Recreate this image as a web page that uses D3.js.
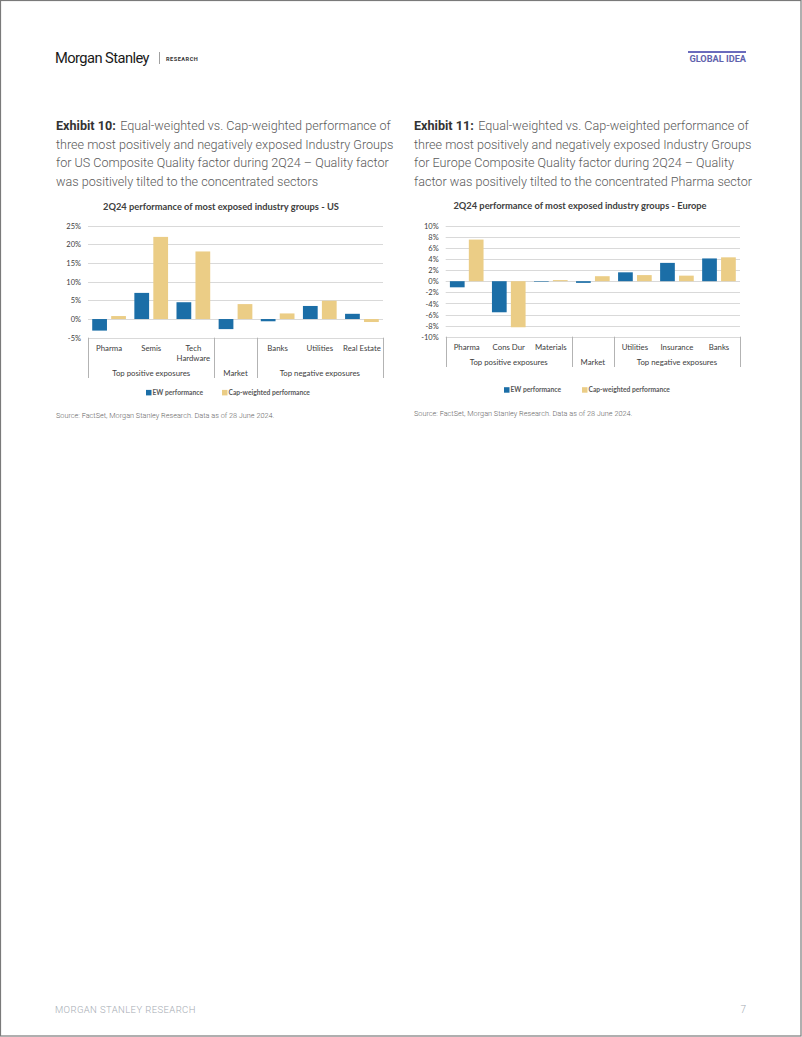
<!DOCTYPE html>
<html><head><meta charset="utf-8">
<script src="https://cdn.jsdelivr.net/npm/d3@7"></script>
<style>
html,body{margin:0;padding:0;background:#fff;}
svg{display:block;}
</style></head>
<body>
<script>
// ---------- DATA ----------
const usCategories = ["Pharma","Semis","Tech Hardware","Market","Banks","Utilities","Real Estate"];
const usEW  = [-3.1, 7.0, 4.5, -2.7, -0.6, 3.5, 1.4];
const usCap = [0.8, 22.0, 18.1, 4.0, 1.5, 4.9, -0.8];
const usTicks = [-5, 0, 5, 10, 15, 20, 25];

const euCategories = ["Pharma","Cons Dur","Materials","Market","Utilities","Insurance","Banks"];
const euEW  = [-1.1, -5.6, -0.1, -0.3, 1.6, 3.3, 4.1];
const euCap = [7.5, -8.3, 0.2, 0.9, 1.1, 1.0, 4.3];
const euTicks = [-10, -8, -6, -4, -2, 0, 2, 4, 6, 8, 10];

const groups = [
  {label:"Top positive exposures", from:0, to:2},
  {label:"Market", from:3, to:3},
  {label:"Top negative exposures", from:4, to:6}
];
const seriesNames = ["EW performance","Cap-weighted performance"];
const colors = ["#1b6ea7","#ebcd86"];

// ---------- PAGE ----------
const W = 802, H = 1037;
const svg = d3.select("body").append("svg").attr("width", W).attr("height", H);

svg.append("rect").attr("x",0.5).attr("y",0.5).attr("width",W-1.5).attr("height",H-1.5)
  .attr("fill","#fff").attr("stroke","#7a7a7a").attr("stroke-width",1.2);

// header
svg.append("text").attr("x",55).attr("y",63).attr("font-family","Roboto").attr("font-size",15.5)
  .attr("letter-spacing",-0.6).attr("fill","#1a1a1a").attr("textLength",94).attr("lengthAdjust","spacingAndGlyphs")
  .text("Morgan Stanley");
svg.append("line").attr("x1",159.5).attr("x2",159.5).attr("y1",52).attr("y2",64).attr("stroke","#888").attr("stroke-width",0.8);
svg.append("text").attr("x",166).attr("y",60.5).attr("font-family","Roboto").attr("font-weight",700)
  .attr("font-size",5.6).attr("letter-spacing",0.5).attr("fill","#333").text("RESEARCH");
svg.append("rect").attr("x",688).attr("y",51).attr("width",58).attr("height",2).attr("fill","#6a6bbd");
svg.append("text").attr("x",746).attr("y",62).attr("text-anchor","end").attr("font-family","Roboto")
  .attr("font-weight",700).attr("font-size",9.2).attr("fill","#6062ad").text("GLOBAL IDEA");

// footer
svg.append("text").attr("x",55).attr("y",1013).attr("font-family","Roboto").attr("font-weight",300)
  .attr("font-size",9.5).attr("letter-spacing",0.4).attr("fill","#a6acb4").text("MORGAN STANLEY RESEARCH");
svg.append("text").attr("x",746).attr("y",1013).attr("text-anchor","end").attr("font-family","Roboto").attr("font-weight",300)
  .attr("font-size",10).attr("fill","#a6acb4").text("7");

// captions
function caption(x, lines, boldPart) {
  const g = svg.append("g");
  lines.forEach((ln, i) => {
    const t = g.append("text").attr("x", x).attr("y", 130 + i*18.5)
      .attr("font-family","Roboto").attr("font-size",12.6).attr("fill","#5a5a5a");
    if (i === 0) {
      t.append("tspan").attr("font-weight",700).attr("fill","#333").text(boldPart);
      t.append("tspan").attr("dx",4.5).attr("font-weight",300).text(ln);
    } else {
      t.attr("font-weight",300).text(ln);
    }
  });
}
caption(56, ["Equal-weighted vs. Cap-weighted performance of",
  "three most positively and negatively exposed Industry Groups",
  "for US Composite Quality factor during 2Q24 \u2013 Quality factor",
  "was positively tilted to the concentrated sectors"], "Exhibit 10:");
caption(414, ["Equal-weighted vs. Cap-weighted performance of",
  "three most positively and negatively exposed Industry Groups",
  "for Europe Composite Quality factor during 2Q24 \u2013 Quality",
  "factor was positively tilted to the concentrated Pharma sector"], "Exhibit 11:");

// ---------- CHART ----------
function chart(o) {
  const g = svg.append("g");
  const font = "Lato";
  const fs = 7.8;
  const y = d3.scaleLinear().domain(o.domain).range([o.yBottom, o.yTop]);
  const x = d3.scaleBand().domain(o.categories).range([o.xLeft, o.xRight]).padding(0);
  const xi = d3.scaleBand().domain(seriesNames).range([0, x.bandwidth()]).paddingInner(0.2222).paddingOuter(0.2222);

  // title
  g.append("text").attr("x", o.titleX).attr("y", o.titleY).attr("text-anchor","middle")
    .attr("font-family",font).attr("font-weight",700).attr("font-size",9.3).attr("fill","#404040").text(o.title);

  // gridlines
  g.append("g").selectAll("line").data(o.ticks).join("line")
    .attr("x1", o.xLeft).attr("x2", o.xRight)
    .attr("y1", d => Math.round(y(d))+0.5).attr("y2", d => Math.round(y(d))+0.5)
    .attr("stroke","#d9d9d9").attr("stroke-width",1);

  // y axis labels
  const yAxis = d3.axisLeft(y).tickValues(o.ticks).tickFormat(d => d + "%").tickSize(0).tickPadding(0);
  const ya = g.append("g").attr("transform", `translate(${o.xLeft - 7},0)`).call(yAxis);
  ya.select(".domain").remove();
  ya.selectAll("text").attr("font-family",font).attr("font-size",7.5).attr("fill","#404040").attr("dy","0.35em");

  // bars
  const series = [o.ew, o.cap];
  series.forEach((vals, si) => {
    g.append("g").selectAll("rect").data(vals).join("rect")
      .attr("x", (d,i) => x(o.categories[i]) + xi(seriesNames[si]))
      .attr("width", xi.bandwidth())
      .attr("y", d => Math.min(y(d), y(0)))
      .attr("height", d => Math.abs(y(d) - y(0)))
      .attr("fill", colors[si]);
  });

  // category axis: dividers
  const divs = [0, 3, 4, 7].map(i => i < 7 ? x(o.categories[i]) : o.xRight);
  g.append("g").selectAll("line").data(divs).join("line")
    .attr("x1", d => Math.round(d)+0.5).attr("x2", d => Math.round(d)+0.5)
    .attr("y1", o.yBottom).attr("y2", o.divBottom)
    .attr("stroke","#b3b3b3").attr("stroke-width",1);

  // category labels
  o.categories.forEach((c, i) => {
    const cx = x(c) + x.bandwidth()/2;
    if (c === "Market") return;
    const parts = o.wrap[c] || [c];
    parts.forEach((p, k) => {
      g.append("text").attr("x", cx).attr("y", o.catY + k*10).attr("text-anchor","middle")
        .attr("font-family",font).attr("font-size",fs).attr("fill","#404040").text(p);
    });
  });
  groups.forEach(gr => {
    const x0 = x(o.categories[gr.from]), x1 = x(o.categories[gr.to]) + x.bandwidth();
    g.append("text").attr("x", (x0+x1)/2).attr("y", o.groupY).attr("text-anchor","middle")
      .attr("font-family",font).attr("font-size",fs).attr("fill","#404040").text(gr.label);
  });

  // legend
  o.legend.forEach((lx, si) => {
    g.append("rect").attr("x", lx).attr("y", o.legendY - 2.8).attr("width",5.5).attr("height",5.5).attr("fill",colors[si]);
    g.append("text").attr("x", lx + 6.5).attr("y", o.legendY).attr("dy","0.35em")
      .attr("font-family",font).attr("font-weight",700).attr("font-size",6.7).attr("fill","#595959").text(seriesNames[si]);
  });

  // source
  g.append("text").attr("x", o.srcX).attr("y", o.srcY).attr("font-family","Roboto").attr("font-weight",300)
    .attr("font-size",7.3).attr("fill","#666")
    .text("Source: FactSet, Morgan Stanley Research. Data as of 28 June 2024.");
}

chart({
  title:"2Q24 performance of most exposed industry groups - US", titleX:221, titleY:210,
  categories: usCategories, ew: usEW, cap: usCap, ticks: usTicks, domain:[-5,25],
  xLeft:88, xRight:383, yTop:225.7, yBottom:337.7, divBottom:378,
  catY:351, groupY:375.5, wrap:{"Tech Hardware":["Tech","Hardware"]},
  legend:[146, 222], legendY:392.7, srcX:56, srcY:418
});
chart({
  title:"2Q24 performance of most exposed industry groups - Europe", titleX:580, titleY:209,
  categories: euCategories, ew: euEW, cap: euCap, ticks: euTicks, domain:[-10,10],
  xLeft:445.7, xRight:740, yTop:225.7, yBottom:336.7, divBottom:367,
  catY:349.5, groupY:364.5, wrap:{},
  legend:[504, 582], legendY:390, srcX:414, srcY:415.5
});
</script>
</body></html>
